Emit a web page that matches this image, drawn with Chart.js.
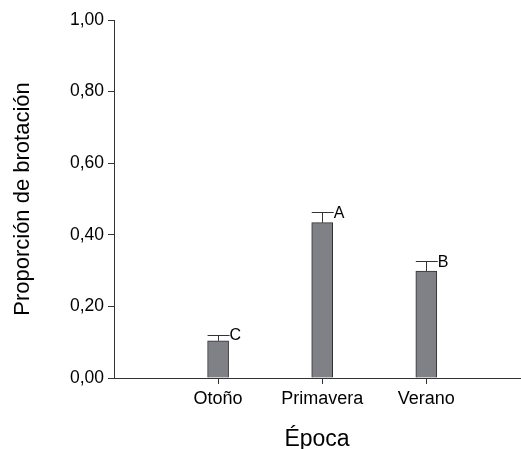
<!DOCTYPE html>
<html>
<head>
<meta charset="utf-8">
<script src="https://cdn.jsdelivr.net/npm/chart.js@4/dist/chart.umd.min.js"></script>
<style>
html,body{margin:0;padding:0;background:#fff;}
#wrap{width:521px;height:449px;}
</style>
</head>
<body>
<div id="wrap"><canvas id="c" width="521" height="449"></canvas></div>
<script>
const categories = ['Otoño', 'Primavera', 'Verano'];
const categoryPositions = [1, 2, 3];
const meanValues = [0.104, 0.434, 0.299];
const errorValues = [0.017, 0.029, 0.027];
const letters = ['C', 'A', 'B'];
const yTicks = [0, 0.2, 0.4, 0.6, 0.8, 1.0];

const FONT = '"Liberation Sans", Arial, sans-serif';
const AXIS = '#333333';

const errorPlugin = {
  id: 'errorBars',
  afterDatasetsDraw(chart) {
    const ctx = chart.ctx;
    const xs = chart.scales.x, ys = chart.scales.y;
    const meta = chart.getDatasetMeta(0);
    ctx.save();
    ctx.strokeStyle = AXIS;
    ctx.lineWidth = 1;
    ctx.fillStyle = '#000';
    ctx.font = '16px ' + FONT;
    ctx.textBaseline = 'middle';
    ctx.textAlign = 'left';
    meanValues.forEach((v, i) => {
      const bar = meta.data[i];
      const half = bar.width / 2;
      const cx = xs.getPixelForValue(categoryPositions[i]);
      const y0 = ys.getPixelForValue(v);
      const y1 = ys.getPixelForValue(v + errorValues[i]);
      ctx.beginPath();
      ctx.moveTo(Math.round(cx) + 0.5, y0);
      ctx.lineTo(Math.round(cx) + 0.5, Math.round(y1) + 0.5);
      ctx.moveTo(cx - half, Math.round(y1) + 0.5);
      ctx.lineTo(cx + half + 1, Math.round(y1) + 0.5);
      ctx.stroke();
      ctx.fillText(letters[i], cx + half + 1, y1 + 1);
    });
    ctx.restore();
  }
};

new Chart(document.getElementById('c'), {
  type: 'bar',
  data: {
    datasets: [{
      data: categoryPositions.map((x, i) => ({x: x, y: meanValues[i]})),
      backgroundColor: '#808087',
      borderColor: '#303030',
      borderWidth: 1,
      barThickness: 21
    }]
  },
  options: {
    responsive: false,
    animation: false,
    layout: {padding: {top: 20, right: 1, left: 0, bottom: 0}},
    plugins: {legend: {display: false}, tooltip: {enabled: false}},
    scales: {
      x: {
        type: 'linear',
        min: 0,
        max: 3.9,
        offset: false,
        afterBuildTicks(axis) { axis.ticks = categoryPositions.map(v => ({value: v})); },
        afterFit(axis) { axis.height = 71; },
        grid: {display: true, offset: false, drawOnChartArea: false, drawTicks: true, tickLength: 6, color: AXIS},
        border: {display: true, color: AXIS, width: 1},
        ticks: {
          color: '#000',
          font: {family: FONT, size: 18},
          padding: 4,
          maxRotation: 0,
          autoSkip: false,
          callback: (v) => { const i = categoryPositions.indexOf(v); return i >= 0 ? categories[i] : ''; }
        },
        title: {display: true, text: 'Época', color: '#000', font: {family: FONT, size: 23, lineHeight: 1}, padding: {top: 10, bottom: -2}}
      },
      y: {
        min: 0,
        max: 1,
        afterBuildTicks(axis) { axis.ticks = yTicks.map(v => ({value: v})); },
        afterFit(axis) { axis.width = 114; },
        grid: {display: true, drawOnChartArea: false, drawTicks: true, tickLength: 6, color: AXIS},
        border: {display: true, color: AXIS, width: 1},
        ticks: {
          color: '#000',
          font: {family: FONT, size: 17.5},
          padding: 4,
          callback: (v) => v.toFixed(2).replace('.', ',')
        },
        title: {display: true, text: 'Proporción de brotación', color: '#000', font: {family: FONT, size: 22}, padding: {top: 10, bottom: 0}}
      }
    }
  },
  plugins: [errorPlugin]
});
</script>
</body>
</html>
